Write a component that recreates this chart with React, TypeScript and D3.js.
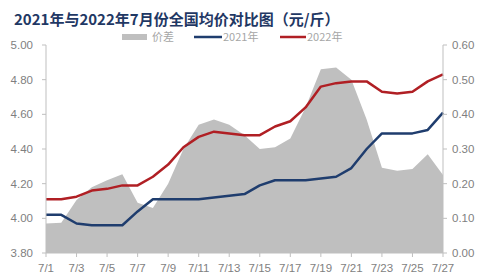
import React from "react";
import * as d3 from "d3";

const days = ["7/1","7/2","7/3","7/4","7/5","7/6","7/7","7/8","7/9","7/10","7/11","7/12","7/13","7/14","7/15","7/16","7/17","7/18","7/19","7/20","7/21","7/22","7/23","7/24","7/25","7/26","7/27"];
const price2021 = [4.02,4.02,3.97,3.96,3.96,3.96,4.04,4.11,4.11,4.11,4.11,4.12,4.13,4.14,4.19,4.22,4.22,4.22,4.23,4.24,4.29,4.40,4.49,4.49,4.49,4.51,4.61];
const price2022 = [4.11,4.11,4.125,4.16,4.17,4.19,4.19,4.24,4.31,4.41,4.47,4.50,4.49,4.48,4.48,4.53,4.56,4.64,4.76,4.78,4.79,4.79,4.73,4.72,4.73,4.79,4.83];
const diff = [0.085,0.087,0.153,0.19,0.21,0.227,0.145,0.13,0.2,0.3,0.37,0.385,0.37,0.34,0.3,0.305,0.33,0.42,0.53,0.535,0.5,0.385,0.246,0.237,0.242,0.285,0.225];
const leftTicks = [3.8,4.0,4.2,4.4,4.6,4.8,5.0];
const rightTicks = [0,0.1,0.2,0.3,0.4,0.5,0.6];

const W = 480, H = 279;
const x0 = 46, x1 = 443, yTop = 45, yBot = 253;
const font = "'Liberation Sans', Arial, sans-serif";
const tickColor = "#7f7f7f";

export default function App() {
  const x = d3.scalePoint<string>().domain(days).range([x0, x1]);
  const yL = d3.scaleLinear().domain([3.8, 5.0]).range([yBot, yTop]);
  const yR = d3.scaleLinear().domain([0, 0.6]).range([yBot, yTop]);
  const area = d3.area<number>().x((_, i) => x(days[i])!).y0(yR(0)).y1(d => yR(d));
  const line = d3.line<number>().x((_, i) => x(days[i])!).y(d => yL(d));
  const labeled = days.filter((_, i) => i % 2 === 0);
  return (
    <svg width={W} height={H} style={{ position: "absolute", left: 0, top: 0, background: "#fff" }}>
      <text x={14} y={25} fontFamily="'Noto Sans CJK SC', sans-serif" fontWeight="bold" fontSize={15} fill="#1f3864">2021年与2022年7月份全国均价对比图（元/斤）</text>
      {/* legend */}
      <rect x={122} y={34} width={25} height={6} fill="#bfbfbf" />
      <text x={152} y={41} fontFamily="'Noto Sans CJK SC', sans-serif" fontSize={11} fill="#a6a6a6">价差</text>
      <line x1={194} x2={222} y1={37} y2={37} stroke="#1f3d6e" strokeWidth={2.5} />
      <text x={223} y={41} fontFamily="'Noto Sans CJK SC', sans-serif" fontSize={11} fill="#a6a6a6">2021年</text>
      <line x1={280} x2={306} y1={37} y2={37} stroke="#b01f24" strokeWidth={2.5} />
      <text x={307} y={41} fontFamily="'Noto Sans CJK SC', sans-serif" fontSize={11} fill="#a6a6a6">2022年</text>

      <path d={area(diff)!} fill="#bfbfbf" />
      <path d={line(price2021)!} fill="none" stroke="#1f3d6e" strokeWidth={2.5} strokeLinejoin="round" />
      <path d={line(price2022)!} fill="none" stroke="#b01f24" strokeWidth={2.5} strokeLinejoin="round" />

      {/* left axis */}
      <line x1={x0} x2={x0} y1={yTop} y2={yBot} stroke="#bfbfbf" />
      {leftTicks.map(t => (
        <g key={"l" + t}>
          <line x1={x0 - 4} x2={x0} y1={yL(t)} y2={yL(t)} stroke="#bfbfbf" />
          <text x={33} y={yL(t) + 4} textAnchor="end" fontFamily={font} fontSize={11.5} fill={tickColor}>{t.toFixed(2)}</text>
        </g>
      ))}
      {/* right axis */}
      <line x1={x1} x2={x1} y1={yTop} y2={yBot} stroke="#bfbfbf" />
      {rightTicks.map(t => (
        <g key={"r" + t}>
          <line x1={x1} x2={x1 + 4} y1={yR(t)} y2={yR(t)} stroke="#bfbfbf" />
          <text x={452} y={yR(t) + 4} textAnchor="start" fontFamily={font} fontSize={11.5} fill={tickColor}>{t.toFixed(2)}</text>
        </g>
      ))}
      {/* bottom axis */}
      <line x1={x0} x2={x1} y1={yBot} y2={yBot} stroke="#bfbfbf" />
      {labeled.map(d => (
        <g key={d}>
          <line x1={x(d)!} x2={x(d)!} y1={yBot} y2={yBot + 4} stroke="#bfbfbf" />
          <text x={x(d)!} y={272} textAnchor="middle" fontFamily={font} fontSize={11.5} fill={tickColor}>{d}</text>
        </g>
      ))}
    </svg>
  );
}
